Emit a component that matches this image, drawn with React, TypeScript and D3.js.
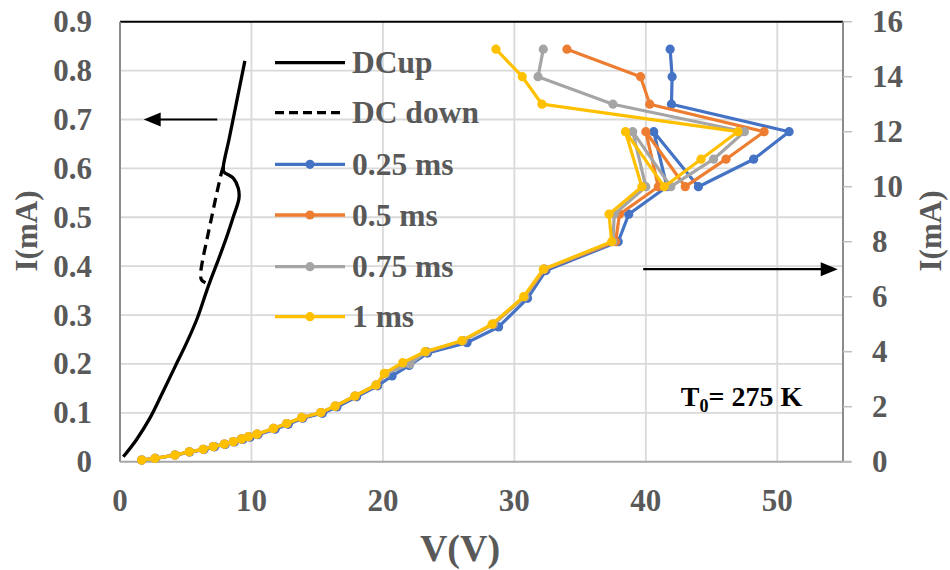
import React from "react";
import * as d3 from "d3";

// ---- data ----
const xTicks = [0, 10, 20, 30, 40, 50];
const yLeftTicks = [0, 0.1, 0.2, 0.3, 0.4, 0.5, 0.6, 0.7, 0.8, 0.9];
const yRightTicks = [0, 2, 4, 6, 8, 10, 12, 14, 16];

// DC sweeps (left axis, mA)
const dcUpV = [0.25, 1.25, 2.25, 3.25, 4.2, 5.1, 5.9, 6.6, 6.98, 7.48, 8.12, 8.62, 9.05, 9.0, 8.62, 7.9, 7.86, 8.3, 8.9, 9.5];
const dcUpI = [0.01, 0.045, 0.088, 0.142, 0.195, 0.245, 0.295, 0.35, 0.378, 0.413, 0.46, 0.501, 0.539, 0.559, 0.58, 0.593, 0.603, 0.66, 0.74, 0.82];
const dcDownV = [7.86, 7.74, 7.36, 6.98, 6.6, 6.29, 6.14, 6.2, 6.5];
const dcDownI = [0.603, 0.593, 0.549, 0.501, 0.453, 0.413, 0.385, 0.372, 0.366];

// Pulsed sweeps (right axis, mA)
const p025V = [1.65, 2.7, 4.2, 5.3, 6.4, 7.2, 8.0, 8.7, 9.35, 9.9, 10.5, 11.8, 12.8, 13.9, 15.4, 16.5, 18.0, 19.6, 20.7, 22.0, 23.4, 26.4, 28.8, 31.0, 32.4, 37.9, 38.7, 41.6, 40.6, 44.0, 48.2, 50.9, 41.95, 42.0, 41.85];
const p025I = [0.06, 0.12, 0.24, 0.35, 0.44, 0.54, 0.63, 0.72, 0.81, 0.89, 0.98, 1.18, 1.36, 1.58, 1.76, 1.99, 2.36, 2.76, 3.12, 3.5, 3.95, 4.33, 4.9, 5.94, 6.95, 8.0, 9.0, 10.0, 12.0, 10.0, 11.0, 12.0, 13.0, 14.0, 15.0];
const p05V = [1.65, 2.66, 4.18, 5.27, 6.33, 7.1, 7.94, 8.62, 9.25, 9.8, 10.45, 11.7, 12.7, 13.85, 15.3, 16.4, 17.9, 19.5, 20.2, 21.6, 23.3, 26.1, 28.4, 30.8, 32.3, 37.7, 38.0, 40.95, 40.0, 43.0, 46.1, 49.0, 40.3, 39.6, 34.0];
const p05I = [0.06, 0.12, 0.24, 0.36, 0.45, 0.55, 0.64, 0.73, 0.83, 0.91, 1.0, 1.21, 1.39, 1.6, 1.79, 2.02, 2.39, 2.79, 3.2, 3.58, 4.0, 4.4, 5.0, 6.0, 7.0, 8.0, 9.0, 10.0, 12.0, 10.0, 11.0, 12.0, 13.0, 14.0, 15.0];
const p075V = [1.65, 2.66, 4.18, 5.27, 6.33, 7.1, 7.94, 8.62, 9.25, 9.76, 10.4, 11.66, 12.68, 13.82, 15.27, 16.35, 17.87, 19.47, 20.2, 22.06, 23.3, 26.1, 28.4, 30.8, 32.25, 37.5, 37.6, 40.0, 39.0, 41.9, 45.15, 47.5, 37.5, 31.8, 32.2];
const p075I = [0.06, 0.12, 0.24, 0.36, 0.45, 0.55, 0.64, 0.73, 0.83, 0.91, 1.0, 1.21, 1.39, 1.61, 1.79, 2.02, 2.39, 2.79, 3.2, 3.55, 4.0, 4.4, 5.0, 6.0, 7.0, 8.0, 9.0, 10.0, 12.0, 10.0, 11.0, 12.0, 13.0, 14.0, 15.0];
const p1V = [1.65, 2.66, 4.18, 5.27, 6.33, 7.1, 7.94, 8.62, 9.25, 9.76, 10.4, 11.66, 12.68, 13.82, 15.27, 16.35, 17.87, 19.47, 20.1, 21.5, 23.2, 26.0, 28.3, 30.7, 32.2, 37.4, 37.2, 39.7, 38.45, 41.4, 44.2, 47.0, 32.1, 30.6, 28.6];
const p1I = [0.06, 0.12, 0.24, 0.36, 0.45, 0.55, 0.64, 0.73, 0.83, 0.91, 1.0, 1.21, 1.39, 1.61, 1.79, 2.02, 2.39, 2.79, 3.21, 3.6, 4.0, 4.4, 5.0, 6.0, 7.0, 8.0, 9.0, 10.0, 12.0, 10.0, 11.0, 12.0, 13.0, 14.0, 15.0];

const seriesNames = ["0.25 ms", "0.5 ms", "0.75 ms", "1 ms"];
const seriesColors = ["#4472C4", "#ED7D31", "#A5A5A5", "#FFC000"];

const W = 950;
const H = 570;
const FONT = "'Liberation Serif', 'Times New Roman', serif";
const TXT = "#595959";

export default function App() {
  const x = d3.scaleLinear().domain([0, 55]).range([120, 843]);
  const yL = d3.scaleLinear().domain([0, 0.9]).range([461.7, 21.7]);
  const yR = d3.scaleLinear().domain([0, 16]).range([461.7, 21.7]);

  const toPts = (vs: number[], is: number[]) => vs.map((v, i) => [v, is[i]] as [number, number]);

  const dcLine = d3
    .line<[number, number]>()
    .x((d) => x(d[0]))
    .y((d) => yL(d[1]))
    .curve(d3.curveCatmullRom.alpha(0.5));
  const pLine = d3
    .line<[number, number]>()
    .x((d) => x(d[0]))
    .y((d) => yR(d[1]));

  const pulsed = [
    toPts(p025V, p025I),
    toPts(p05V, p05I),
    toPts(p075V, p075I),
    toPts(p1V, p1I),
  ];

  const legendRows = [62.7, 112.7, 164.3, 215, 266.7, 316.7];
  const legX0 = 275;
  const legX1 = 345;

  const arrowY1 = yL(0.7);
  const arrowY2 = yR(7.0);

  return (
    <svg
      width={W}
      height={H}
      style={{ position: "absolute", left: 0, top: 0, background: "#fff" }}
      fontFamily={FONT}
      fontWeight="bold"
    >
      {/* gridlines */}
      {yLeftTicks.slice(1, -1).map((t) => (
        <line key={"gy" + t} x1={x(0)} x2={x(55)} y1={yL(t)} y2={yL(t)} stroke="#d9d9d9" strokeWidth={1.8} />
      ))}
      {xTicks.slice(1).map((t) => (
        <line key={"gx" + t} x1={x(t)} x2={x(t)} y1={yL(0)} y2={yL(0.9)} stroke="#d9d9d9" strokeWidth={1.8} />
      ))}
      {/* top border */}
      <line x1={x(0)} x2={x(55)} y1={yL(0.9)} y2={yL(0.9)} stroke="#000" strokeWidth={2} />
      {/* axes */}
      <line x1={x(0)} x2={x(0)} y1={yL(0)} y2={yL(0.9)} stroke="#8c8c8c" strokeWidth={2} />
      <line x1={x(55)} x2={x(55)} y1={yL(0)} y2={yL(0.9)} stroke="#8c8c8c" strokeWidth={2} />
      <line x1={x(0)} x2={x(55) + 8} y1={yL(0)} y2={yL(0)} stroke="#a6a6a6" strokeWidth={2} />
      {yRightTicks.map((t) => (
        <line key={"rt" + t} x1={x(55)} x2={x(55) + 9} y1={yR(t)} y2={yR(t)} stroke="#bfbfbf" strokeWidth={1.5} />
      ))}

      {/* tick labels */}
      {yLeftTicks.map((t) => (
        <text key={"yl" + t} x={92} y={yL(t)} textAnchor="end" dominantBaseline="central" fontSize={31} fill={TXT}>
          {t === 0 ? "0" : t.toFixed(1)}
        </text>
      ))}
      {yRightTicks.map((t) => (
        <text key={"yr" + t} x={872} y={yR(t)} textAnchor="start" dominantBaseline="central" fontSize={31} fill={TXT}>
          {t}
        </text>
      ))}
      {xTicks.map((t) => (
        <text key={"xl" + t} x={x(t)} y={500} textAnchor="middle" dominantBaseline="central" fontSize={31} fill={TXT}>
          {t}
        </text>
      ))}

      {/* axis titles */}
      <text x={460} y={548} textAnchor="middle" dominantBaseline="central" fontSize={38} fill={TXT}>
        V(V)
      </text>
      <text transform="translate(26,231) rotate(-90)" textAnchor="middle" dominantBaseline="central" fontSize={31} fill={TXT}>
        I(mA)
      </text>
      <text transform="translate(930,231) rotate(-90)" textAnchor="middle" dominantBaseline="central" fontSize={31} fill={TXT}>
        I(mA)
      </text>

      {/* DC curves */}
      <path d={dcLine(toPts(dcUpV, dcUpI)) || ""} fill="none" stroke="#000" strokeWidth={3.3} strokeLinejoin="round" />
      <path d={dcLine(toPts(dcDownV, dcDownI)) || ""} fill="none" stroke="#000" strokeWidth={3.3} strokeDasharray="10,6" />

      {/* pulsed series */}
      {pulsed.map((pts, si) => (
        <g key={"s" + si}>
          <path d={pLine(pts) || ""} fill="none" stroke={seriesColors[si]} strokeWidth={3.2} strokeLinejoin="round" />
          {pts.map((p, i) => (
            <circle key={i} cx={x(p[0])} cy={yR(p[1])} r={4.6} fill={seriesColors[si]} />
          ))}
        </g>
      ))}

      {/* arrows */}
      <line x1={x(7.4)} x2={x(2.6)} y1={arrowY1} y2={arrowY1} stroke="#000" strokeWidth={2.2} />
      <path
        d={`M${x(1.8)},${arrowY1} L${x(1.8) + 17},${arrowY1 - 7} L${x(1.8) + 17},${arrowY1 + 7} Z`}
        fill="#000"
      />
      <line x1={x(39.8)} x2={x(53.4)} y1={arrowY2} y2={arrowY2} stroke="#000" strokeWidth={2.2} />
      <path
        d={`M${x(54.6)},${arrowY2} L${x(54.6) - 17},${arrowY2 - 7} L${x(54.6) - 17},${arrowY2 + 7} Z`}
        fill="#000"
      />

      {/* legend */}
      <line x1={legX0} x2={legX1} y1={legendRows[0]} y2={legendRows[0]} stroke="#000" strokeWidth={3.3} />
      <text x={352} y={legendRows[0]} dominantBaseline="central" fontSize={31.5} fill={TXT}>DCup</text>
      <line x1={legX0} x2={legX1} y1={legendRows[1]} y2={legendRows[1]} stroke="#000" strokeWidth={3.3} strokeDasharray="9,5" />
      <text x={352} y={legendRows[1]} dominantBaseline="central" fontSize={31.5} fill={TXT}>DC down</text>
      {seriesNames.map((n, i) => (
        <g key={"lg" + i}>
          <line x1={legX0} x2={legX1} y1={legendRows[i + 2]} y2={legendRows[i + 2]} stroke={seriesColors[i]} strokeWidth={3.3} />
          <circle cx={(legX0 + legX1) / 2} cy={legendRows[i + 2]} r={4.6} fill={seriesColors[i]} />
          <text x={352} y={legendRows[i + 2]} dominantBaseline="central" fontSize={31.5} fill={TXT}>
            {n}
          </text>
        </g>
      ))}

      {/* temperature label */}
      <text x={x(51.9)} y={yL(0.113)} textAnchor="end" fontSize={28} fill="#000">
        T<tspan fontSize={18} dy={6}>0</tspan>
        <tspan dy={-6}>= 275 K</tspan>
      </text>
    </svg>
  );
}
